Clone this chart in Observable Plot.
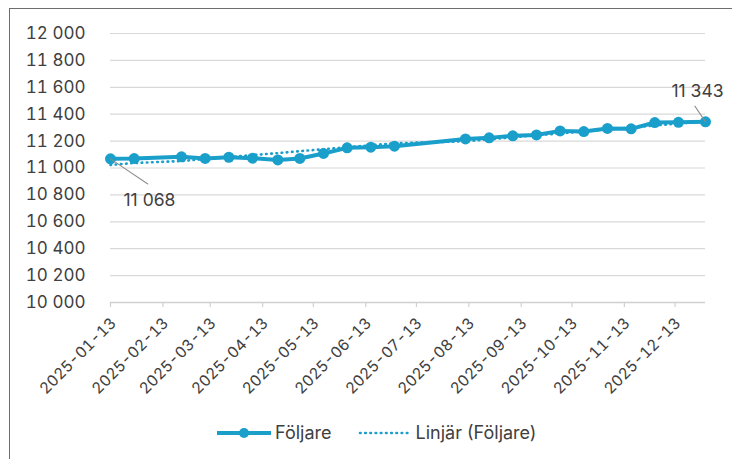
<!DOCTYPE html>
<html>
<head>
<meta charset="utf-8">
<script src="https://cdn.jsdelivr.net/npm/d3@7"></script>
<script src="https://cdn.jsdelivr.net/npm/@observablehq/plot@0.6"></script>
<style>
  html, body { margin: 0; padding: 0; background: #fff; }
  body { width: 732px; height: 459px; position: relative; overflow: hidden; font-family: "Inter", "Lato", sans-serif; }
  #frame { position: absolute; left: 9px; top: 8px; right: -5px; bottom: -5px; border-top: 1.5px solid #6e6e6e; border-left: 1.5px solid #6e6e6e; }
  #chart { position: absolute; left: 0; top: 0; }
  #legend { position: absolute; top: 422px; left: 217px; display: flex; align-items: center; font-size: 18px; color: #404040; white-space: nowrap; }
  #legend .item { display: flex; align-items: center; }
  #legend svg { display: block; }
</style>
</head>
<body>
<div id="frame"></div>
<div id="chart"></div>
<div id="legend"></div>
<script>
// ---- data ----
const dates = ["2025-01-13","2025-01-27","2025-02-24","2025-03-10","2025-03-24","2025-04-07","2025-04-22","2025-05-05","2025-05-19","2025-06-02","2025-06-16","2025-06-30","2025-08-11","2025-08-25","2025-09-08","2025-09-22","2025-10-06","2025-10-20","2025-11-03","2025-11-17","2025-12-01","2025-12-15","2025-12-31"];
const followers = [11068,11070,11083,11071,11080,11073,11060,11071,11108,11150,11155,11162,11216,11224,11239,11246,11276,11271,11294,11291,11338,11340,11343];
const yTicks = [10000,10200,10400,10600,10800,11000,11200,11400,11600,11800,12000];
const xTickLabels = ["2025-01-13","2025-02-13","2025-03-13","2025-04-13","2025-05-13","2025-06-13","2025-07-13","2025-08-13","2025-09-13","2025-10-13","2025-11-13","2025-12-13"];
const seriesName = "Följare";
const trendName = "Linjär (Följare)";

const color = "#1a9fcb";
const textColor = "#404040";
const parse = d3.utcParse("%Y-%m-%d");
const fmt = d3.formatLocale({decimal: ",", thousands: " ", grouping: [3], currency: ["", " kr"]}).format(",d");

const data = dates.map((d, i) => ({date: parse(d), value: followers[i], i}));

// Excel-style linear trendline for a line chart (x = point index)
const n = followers.length;
const mi = d3.mean(data, d => d.i), mv = d3.mean(followers);
const slope = d3.sum(data, d => (d.i - mi) * (d.value - mv)) / d3.sum(data, d => (d.i - mi) ** 2);
const intercept = mv - slope * mi;
const trend = data.map(d => ({date: d.date, value: intercept + slope * d.i}));

const first = data[0], last = data[n - 1];
const leader = {draw(ctx, l) { ctx.moveTo(0, 0); ctx.lineTo(0, -l); }};
const xTicks = xTickLabels.map(parse);

const chart = Plot.plot({
  width: 732,
  height: 412,
  marginLeft: 110,
  marginRight: 27,
  marginTop: 33,
  marginBottom: 110,
  style: {fontFamily: "Inter, Lato, sans-serif", fontSize: "16px", background: "transparent", color: textColor},
  x: {type: "utc", domain: [first.date, last.date]},
  y: {domain: [10000, 12000]},
  marks: [
    Plot.gridY(yTicks, {stroke: "#d9d9d9", strokeOpacity: 1, strokeWidth: 1.2}),
    Plot.axisY(yTicks, {tickSize: 0, tickPadding: 25, tickFormat: fmt, label: null, fill: textColor, fontSize: 17}),
    Plot.ruleY([10000], {stroke: "#d0d0d0", strokeWidth: 1.5}),
    Plot.axisX(xTicks, {tickSize: 5, stroke: "#d0d0d0", strokeWidth: 1.2, tickFormat: () => "", label: null}),
    Plot.axisX(xTicks, {tickSize: 0, tickRotate: -45, tickPadding: 18, dx: 3, tickFormat: d3.utcFormat("%Y-%m-%d"), label: null, fill: textColor, fontSize: 15.5}),
    Plot.line(data, {x: "date", y: "value", stroke: color, strokeWidth: 4}),
    Plot.dot(data, {x: "date", y: "value", r: 5.5, fill: color, stroke: "none"}),
    Plot.line(trend, {x: "date", y: "value", stroke: color, strokeWidth: 2.6, strokeDasharray: "0.6,4.6", strokeLinecap: "round"}),
    Plot.vector([first], {x: "date", y: "value", length: 45, rotate: 124, anchor: "start", shape: leader, stroke: "#8c8c8c", strokeWidth: 1}),
    Plot.vector([last], {x: "date", y: "value", length: 19, rotate: -34, anchor: "start", shape: leader, stroke: "#8c8c8c", strokeWidth: 1}),
    Plot.text([first], {x: "date", y: "value", text: d => fmt(d.value), dx: 13, dy: 42, textAnchor: "start", fill: textColor, fontSize: 17.5}),
    Plot.text([last], {x: "date", y: "value", text: d => fmt(d.value), dx: -8, dy: -30, textAnchor: "middle", fill: textColor, fontSize: 17.5})
  ]
});
document.getElementById("chart").appendChild(chart);

// legend
const legend = d3.select("#legend");
const it1 = legend.append("div").attr("class", "item");
const s1 = it1.append("svg").attr("width", 54).attr("height", 14);
s1.append("line").attr("x1", 0).attr("x2", 54).attr("y1", 7).attr("y2", 7).attr("stroke", color).attr("stroke-width", 4);
s1.append("circle").attr("cx", 27).attr("cy", 7).attr("r", 5).attr("fill", color);
it1.append("span").text(seriesName).style("margin-left", "4px");
const it2 = legend.append("div").attr("class", "item").style("margin-left", "26px");
const s2 = it2.append("svg").attr("width", 52).attr("height", 14);
s2.append("line").attr("x1", 2).attr("x2", 52).attr("y1", 7).attr("y2", 7).attr("stroke", color).attr("stroke-width", 2.6).attr("stroke-dasharray", "0.6,4.6").attr("stroke-linecap", "round");
it2.append("span").text(trendName).style("margin-left", "6px");
</script>
</body>
</html>
